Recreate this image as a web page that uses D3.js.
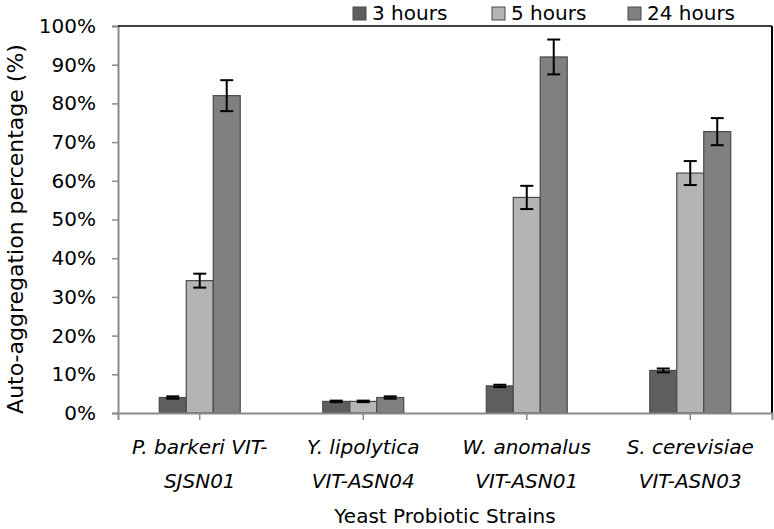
<!DOCTYPE html>
<html>
<head>
<meta charset="utf-8">
<script src="https://cdn.jsdelivr.net/npm/d3@7"></script>
<style>
  body { margin: 0; background: #fff; }
  svg { display: block; font-family: 'DejaVu Sans', Verdana, sans-serif; }
</style>
</head>
<body>
<svg id="chart" width="774" height="529"></svg>
<script>
// data
const strains = [
  ['P. barkeri VIT-', 'SJSN01'],
  ['Y. lipolytica', 'VIT-ASN04'],
  ['W. anomalus', 'VIT-ASN01'],
  ['S. cerevisiae', 'VIT-ASN03']
]
const seriesNames = ['3 hours', '5 hours', '24 hours']
const hours3 = [4, 3, 7, 11]
const hours5 = [34.2, 3, 55.7, 62]
const hours24 = [82, 4, 92, 72.7]
const err3 = [0.3, 0.2, 0.3, 0.5]
const err5 = [1.8, 0.2, 3, 3.1]
const err24 = [4, 0.3, 4.5, 3.5]
const yTicks = [0, 10, 20, 30, 40, 50, 60, 70, 80, 90, 100]

const colors = ['#5e5e5e', '#b4b4b4', '#808080']

const width = 774
const height = 529
const margin = { top: 26, right: 2, bottom: 116, left: 118 }

const svg = d3.select('#chart')
const g = svg.append('g')

const x0 = d3.scaleBand()
  .domain(d3.range(strains.length))
  .range([margin.left, width - margin.right])
  .padding(0)

const x1 = d3.scaleBand()
  .domain(seriesNames)
  .range([0, x0.bandwidth()])
  .paddingInner(0)
  .paddingOuter(1.53)

const y = d3.scaleLinear()
  .domain([0, 100])
  .range([height - margin.bottom, margin.top])

const values = [hours3, hours5, hours24]
const errors = [err3, err5, err24]
const rows = []
strains.forEach((s, i) => {
  seriesNames.forEach((name, k) => {
    rows.push({ i, name, k, v: values[k][i], e: errors[k][i] })
  })
})

// y axis
const yAxis = g.append('g')
  .attr('transform', `translate(${margin.left},0)`)
  .call(d3.axisLeft(y).tickValues(yTicks).tickSize(6).tickFormat(d => d + '%'))
yAxis.select('.domain').attr('stroke', '#8a8a8a').attr('stroke-width', 2)
yAxis.selectAll('.tick line').attr('stroke', '#8a8a8a').attr('stroke-width', 1.5)
yAxis.selectAll('.tick text')
  .attr('x', -22)
  .attr('font-size', 20)
  .attr('font-family', "'DejaVu Sans', Verdana, sans-serif")
  .attr('fill', '#000')

// frame top / right
g.append('line')
  .attr('x1', margin.left).attr('x2', width - margin.right)
  .attr('y1', y(100)).attr('y2', y(100))
  .attr('stroke', '#000').attr('stroke-width', 1.5)
g.append('line')
  .attr('x1', width - margin.right).attr('x2', width - margin.right)
  .attr('y1', y(100)).attr('y2', y(0))
  .attr('stroke', '#000').attr('stroke-width', 2)

// bars
g.append('g')
  .selectAll('rect')
  .data(rows)
  .enter()
  .append('rect')
  .attr('x', d => x0(d.i) + x1(d.name))
  .attr('y', d => y(d.v))
  .attr('width', x1.bandwidth())
  .attr('height', d => y(0) - y(d.v))
  .attr('fill', d => colors[d.k])
  .attr('stroke', '#4a4a4a')
  .attr('stroke-width', 1.2)

// error bars
const eb = g.append('g').attr('stroke', '#000').attr('stroke-width', 2)
rows.forEach(d => {
  const cx = x0(d.i) + x1(d.name) + x1.bandwidth() / 2
  const cap = 6.5
  eb.append('line')
    .attr('x1', cx).attr('x2', cx)
    .attr('y1', y(d.v + d.e)).attr('y2', y(d.v - d.e))
  eb.append('line')
    .attr('x1', cx - cap).attr('x2', cx + cap)
    .attr('y1', y(d.v + d.e)).attr('y2', y(d.v + d.e))
  eb.append('line')
    .attr('x1', cx - cap).attr('x2', cx + cap)
    .attr('y1', y(d.v - d.e)).attr('y2', y(d.v - d.e))
})

// x axis
const xAxis = g.append('g')
  .attr('transform', `translate(0,${y(0)})`)
  .call(d3.axisBottom(x0).tickSize(7).tickFormat(''))
xAxis.select('.domain').attr('stroke', '#8a8a8a').attr('stroke-width', 2)
xAxis.selectAll('.tick line').attr('stroke', '#8a8a8a').attr('stroke-width', 1.5)

const labels = g.append('g')
  .attr('font-size', 20)
  .attr('font-style', 'italic')
  .attr('text-anchor', 'middle')
strains.forEach((lines, i) => {
  const t = labels.append('text')
    .attr('x', x0(i) + x0.bandwidth() / 2)
    .attr('y', 454)
  lines.forEach((ln, j) => {
    t.append('tspan')
      .attr('x', x0(i) + x0.bandwidth() / 2)
      .attr('dy', j === 0 ? 0 : 34)
      .text(ln)
  })
})

// axis titles
g.append('text')
  .attr('x', (margin.left + width - margin.right) / 2)
  .attr('y', 523)
  .attr('text-anchor', 'middle')
  .attr('font-size', 20)
  .text('Yeast Probiotic Strains')

g.append('text')
  .attr('transform', `translate(23,${229}) rotate(-90)`)
  .attr('text-anchor', 'middle')
  .attr('font-size', 22)
  .text('Auto-aggregation percentage (%)')

// legend
const legendX = [353, 492, 628]
const legend = g.append('g')
seriesNames.forEach((name, k) => {
  legend.append('rect')
    .attr('x', legendX[k]).attr('y', 7)
    .attr('width', 13).attr('height', 13)
    .attr('fill', colors[k])
    .attr('stroke', '#4a4a4a')
    .attr('stroke-width', 1)
  legend.append('text')
    .attr('x', legendX[k] + 19)
    .attr('y', 20)
    .attr('font-size', 20)
    .text(name)
})
</script>
</body>
</html>
